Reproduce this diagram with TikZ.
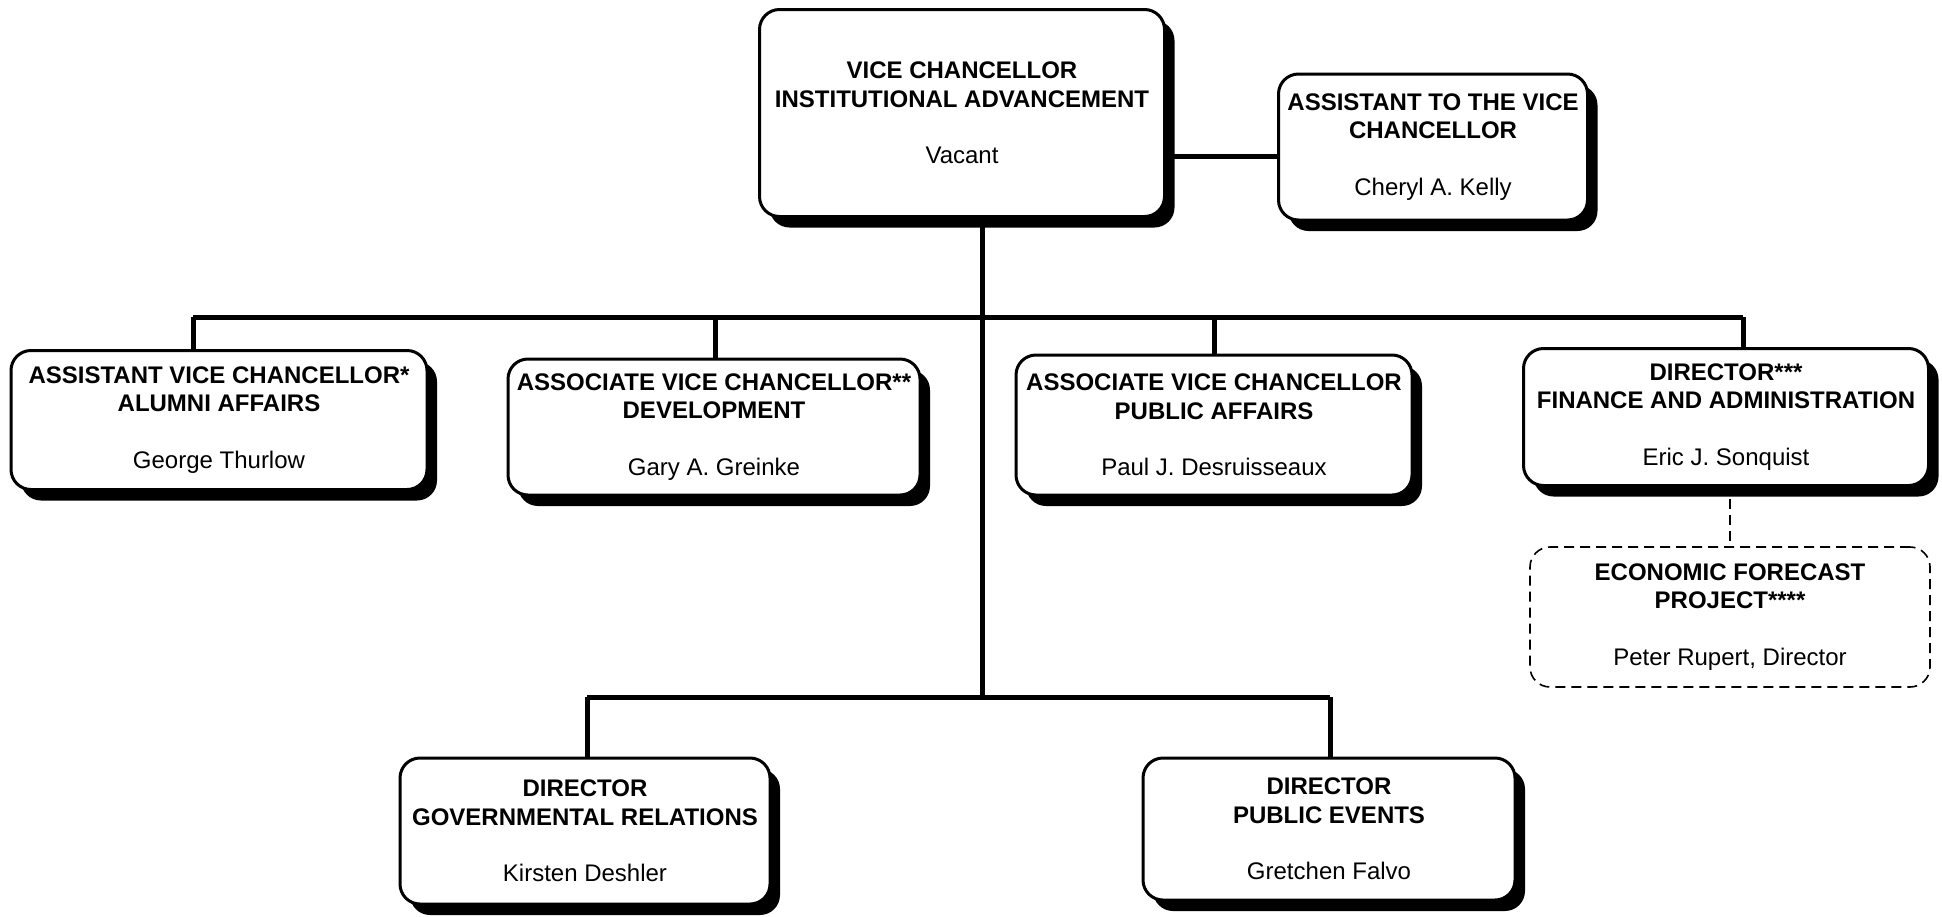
\documentclass[tikz,border=0pt]{standalone}
\usepackage{fontspec}
\setmainfont{Liberation Sans}
\usetikzlibrary{shadows}
\newcommand{\ttl}[1]{\textbf{#1}}
\begin{document}
\begin{tikzpicture}[x=1pt,y=-1pt,
  boxbase/.style={line width=3pt, rounded corners=20pt, fill=white, align=center, inner sep=0pt,
    font=\fontsize{24}{28.5}\selectfont},
  box/.style={boxbase, draw, drop shadow={shadow xshift=10pt, shadow yshift=-11pt, fill=black, opacity=1}},
  dbox/.style={boxbase, draw, line width=1.6pt, dash pattern=on 10pt off 6pt},
  conn/.style={line width=5pt},
  dconn/.style={line width=1.6pt, dash pattern=on 10pt off 6pt}]
\useasboundingbox (0,0) rectangle (1942,916);

\node[box, minimum width=405pt, minimum height=207pt] (vc) at (962,113)
  {\ttl{VICE CHANCELLOR}\\\ttl{INSTITUTIONAL ADVANCEMENT}\\[28pt]Vacant};
\node[box, minimum width=309pt, minimum height=146pt] (ast) at (1433,147)
  {\ttl{ASSISTANT TO THE VICE}\\\ttl{CHANCELLOR}\\[28pt]Cheryl A. Kelly};

\node[box, minimum width=416pt, minimum height=139pt] (alu) at (219,420)
  {\ttl{ASSISTANT VICE CHANCELLOR*}\\\ttl{ALUMNI AFFAIRS}\\[28pt]George Thurlow};
\node[box, minimum width=412pt, minimum height=136pt] (dev) at (714,427)
  {\ttl{ASSOCIATE VICE CHANCELLOR**}\\\ttl{DEVELOPMENT}\\[28pt]Gary A. Greinke};
\node[box, minimum width=396pt, minimum height=140pt] (pub) at (1214,425)
  {\ttl{ASSOCIATE VICE CHANCELLOR}\\\ttl{PUBLIC AFFAIRS}\\[28pt]Paul J. Desruisseaux};
\node[box, minimum width=405pt, minimum height=137pt] (fin) at (1726,417)
  {\ttl{DIRECTOR***}\\\ttl{FINANCE AND ADMINISTRATION}\\[28pt]Eric J. Sonquist};
\node[dbox, minimum width=400pt, minimum height=140pt] (efp) at (1730,617)
  {\ttl{ECONOMIC FORECAST}\\\ttl{PROJECT****}\\[28pt]Peter Rupert, Director};

\node[box, minimum width=370pt, minimum height=146pt] (gov) at (585,831)
  {\ttl{DIRECTOR}\\\ttl{GOVERNMENTAL RELATIONS}\\[28pt]Kirsten Deshler};
\node[box, minimum width=372pt, minimum height=142pt] (pev) at (1329,829)
  {\ttl{DIRECTOR}\\\ttl{PUBLIC EVENTS}\\[28pt]Gretchen Falvo};

\coordinate (a) at (1200,156);
\coordinate (j) at (982,317);
\coordinate (t1) at (193,317);
\coordinate (t2) at (715,317);
\coordinate (t3) at (1214,317);
\coordinate (t4) at (1743,317);
\coordinate (j2) at (982,697);
\coordinate (b1) at (587,697);
\coordinate (b2) at (1330,697);

\draw[conn] (vc.east |- a) -- (ast.west |- a);
\draw[conn] (vc.south -| j) -- (j2);
\draw[conn] (t1) -- (t4);
\draw[conn] (t1) -- (t1 |- alu.north);
\draw[conn] (t2) -- (t2 |- dev.north);
\draw[conn] (t3) -- (t3 |- pub.north);
\draw[conn] (t4) -- (t4 |- fin.north);
\draw[conn] (b1) -- (b2);
\draw[conn] (b1) -- (b1 |- gov.north);
\draw[conn] (b2) -- (b2 |- pev.north);
\draw[dconn] ([yshift=-12pt]fin.south -| efp.north) -- (efp.north);
\end{tikzpicture}
\end{document}
